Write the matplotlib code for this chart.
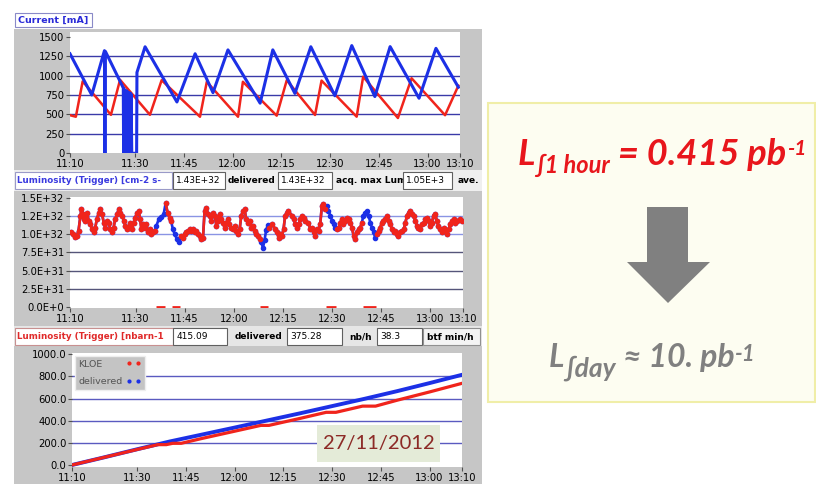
import numpy as np
import matplotlib
matplotlib.use("Agg")
import matplotlib.pyplot as plt
from matplotlib.patches import Rectangle, Polygon
from matplotlib.transforms import Affine2D
from matplotlib.lines import Line2D

W, H = 816, 487

# ---------------- time axis (minutes after 11:10) ----------------
time_ticks = [0, 20, 35, 50, 65, 80, 95, 110, 120]
time_labels = ['11:10', '11:30', '11:45', '12:00', '12:15', '12:30', '12:45', '13:00', '13:10']

# ---------------- beam currents [mA] ----------------
ele_t = [0, 6.7, 10.6, 10.75, 10.9, 16.4, 16.5, 16.6, 16.9, 17.0, 17.1, 17.5, 17.55, 17.7,
         18.0, 18.1, 18.2, 18.6, 18.7, 18.8, 19.0, 20.5, 20.6, 23.1, 32.9, 38.5, 44.0, 48.6,
         58.5, 62.4, 69.2, 74.1, 81.5, 86.7, 93.8, 98.5, 107.4, 112.6, 119.5]
ele_ma = [1280, 750, 1320, 0, 1310, 840, 0, 830, 420, 0, 810, 800, 0, 790,
          400, 0, 780, 770, 0, 760, 0, 0, 1040, 1370, 660, 1280, 780, 1330,
          645, 1330, 770, 1370, 740, 1385, 730, 1372, 708, 1350, 850]
pos_t = [0, 1.8, 3.9, 12.6, 15.4, 24.6, 28.2, 40.0, 42.1, 51.7, 53.2, 63.6, 66.7,
         75.4, 77.4, 88.2, 90.2, 100.9, 105.1, 115.4, 119.5]
pos_ma = [490, 470, 925, 495, 945, 495, 940, 470, 920, 470, 920, 484, 940,
          493, 935, 471, 985, 454, 965, 490, 870]
current_ticks = [0, 250, 500, 750, 1000, 1250, 1500]

# ---------------- instantaneous luminosity [1E32 cm-2 s-1] ----------------
lumi_t = [0.4, 0.9, 1.4, 2.1, 2.6, 3.2, 3.5, 4.0, 4.3, 4.7, 5.2, 5.7, 6.2, 6.7, 7.2, 7.7,
          8.2, 8.8, 9.3, 9.8, 10.3, 10.8, 11.3, 11.8, 12.3, 12.8, 13.3, 13.8, 14.4, 14.9,
          15.4, 15.9, 16.4, 16.9, 17.4, 17.9, 18.4, 18.9, 19.4, 19.9, 20.5, 21.0, 21.4,
          21.8, 22.3, 22.8, 23.3, 23.8, 24.3, 24.8, 25.3, 25.9,
          26.4, 27.1, 27.9, 28.6,
          29.2, 29.8, 30.4, 30.9,
          31.4, 32.0, 32.6, 33.2,
          34.0, 34.5, 35.0, 35.5, 36.0, 36.5, 37.0, 37.6, 38.1, 38.6, 39.1, 39.6, 40.1,
          40.6, 41.1, 41.6, 42.1, 42.6, 43.2, 43.7, 44.2, 44.7, 45.2, 45.7, 46.2, 46.7,
          47.2, 47.7, 48.2, 48.7, 49.3, 49.8, 50.3, 50.8, 51.3, 51.8, 52.3, 52.8, 53.3,
          53.8, 54.3, 54.9, 55.4, 55.9, 56.4, 56.9, 57.4, 57.9,
          58.4, 58.9, 59.4, 59.9, 60.4,
          60.9, 61.7, 62.7, 63.2, 63.7, 64.2, 64.7, 65.2, 65.7, 66.2, 66.7, 67.8, 68.3,
          68.8, 69.3, 69.8, 70.3, 70.8, 71.3, 71.8, 72.8, 73.4, 73.9, 74.4, 74.9, 75.4,
          75.9, 76.4, 76.9, 77.4, 77.9,
          78.4, 78.9, 79.5, 80.0, 80.5, 81.0,
          81.5, 82.0, 82.5, 83.0, 83.5, 84.0, 84.6, 85.1, 85.6, 86.1, 86.6, 87.1, 87.6,
          88.1, 88.6, 89.1,
          89.6, 90.2, 90.7, 91.2, 91.7, 92.2, 92.7, 93.2,
          93.7, 94.2, 94.7, 95.2, 95.7, 96.3, 96.8, 97.3, 97.8, 98.3, 98.8, 99.3, 99.8,
          100.3, 100.8, 101.3, 101.9, 102.4, 102.9, 103.4, 103.9, 104.4, 104.9, 105.4,
          105.9, 106.4, 106.9, 107.5, 108.0, 108.5, 109.0, 109.5, 110.0, 110.5, 111.0,
          111.5, 112.0, 112.5, 113.1, 113.6, 114.1, 114.6, 115.1, 115.6, 116.1, 116.6,
          117.1, 117.6, 118.1, 119.1, 119.7]
lumi_val = [1.03, 1.00, 0.96, 0.98, 1.05, 1.26, 1.35, 1.28, 1.21, 1.19, 1.30, 1.19, 1.14, 1.07, 1.03, 1.09,
            1.21, 1.30, 1.35, 1.28, 1.16, 1.09, 1.19, 1.16, 1.07, 1.03, 1.09, 1.21, 1.28, 1.35,
            1.30, 1.26, 1.19, 1.12, 1.07, 1.09, 1.16, 1.07, 1.16, 1.23, 1.30, 1.32, 1.21,
            1.07, 1.14, 1.09, 1.14, 1.03, 1.07, 1.00, 1.03, 1.05,
            1.12, 1.21, 1.24, 1.28,
            1.43, 1.30, 1.23, 1.18,
            1.07, 1.00, 0.94, 0.90,
            0.98, 0.95, 1.00, 1.03, 1.05, 1.07, 1.05, 1.07, 1.03, 1.05, 1.00, 0.98, 0.93,
            0.95, 1.32, 1.37, 1.28, 1.26, 1.19, 1.30, 1.26, 1.12, 1.19, 1.28, 1.21, 1.16,
            1.09, 1.16, 1.21, 1.14, 1.09, 1.07, 1.12, 1.05, 1.00, 1.07, 1.26, 1.32, 1.35,
            1.21, 1.16, 1.19, 1.09, 1.12, 1.05, 1.00, 0.98, 0.93,
            0.90, 0.81, 0.92, 1.06, 1.13,
            1.09, 1.14, 1.07, 1.03, 0.95, 1.00, 0.98, 1.07, 1.26, 1.30, 1.32, 1.26, 1.21,
            1.14, 1.09, 1.14, 1.21, 1.26, 1.23, 1.19, 1.16, 1.07, 1.09, 1.03, 0.98, 1.07,
            1.05, 1.14, 1.39, 1.42, 1.35,
            1.39, 1.32, 1.26, 1.19, 1.14, 1.09,
            1.07, 1.09, 1.16, 1.21, 1.14, 1.19, 1.23, 1.21, 1.16, 1.09, 0.98, 0.93, 1.03,
            1.07, 1.09, 1.16,
            1.26, 1.30, 1.32, 1.26, 1.16, 1.09, 1.03, 0.95,
            1.00, 1.05, 1.09, 1.16, 1.19, 1.21, 1.26, 1.19, 1.14, 1.07, 1.03, 1.05, 1.00,
            0.98, 1.03, 1.05, 1.07, 1.16, 1.26, 1.30, 1.32, 1.28, 1.26, 1.19,
            1.12, 1.09, 1.07, 1.14, 1.16, 1.21, 1.23, 1.19, 1.12, 1.16, 1.26,
            1.28, 1.19, 1.12, 1.07, 1.03, 1.09, 1.05, 1.00, 1.07, 1.14, 1.19,
            1.21, 1.16, 1.19, 1.21, 1.19]
# periods with KLOE not acquiring (minutes)
kloe_off = [(26.2, 29.0), (31.1, 33.6), (58.1, 60.6), (78.2, 81.2), (89.4, 93.4)]
lumi_ticks = [0.0, 0.25, 0.5, 0.75, 1.0, 1.25, 1.5]
lumi_tick_labels = ['0.0E+0', '2.5E+31', '5.0E+31', '7.5E+31', '1.0E+32', '1.2E+32', '1.5E+32']

# ---------------- integrated luminosity [nb-1] ----------------
int_del_t = [0, 10, 20, 30, 40, 50, 60, 70, 80, 90, 100, 110, 120]
int_del = [0, 70, 142, 212, 275, 338, 402, 466, 532, 598, 667, 740, 815]
int_kloe_t = [0, 10, 20, 26.4, 29.0, 31.0, 33.6, 40, 50, 58.1, 60.6, 70, 78.2, 81.2,
              89.4, 93.4, 100, 110, 120]
int_kloe = [0, 70, 140, 184, 184, 196, 196, 240, 305, 358, 358, 420, 476, 476,
            532, 532, 585, 660, 738]
int_ticks = [0, 200, 400, 600, 800, 1000]
int_tick_labels = ['0.0', '200.0', '400.0', '600.0', '800.0', '1000.0']
legend_labels = ['KLOE', 'delivered']

BLUE = '#1c30e6'
RED = '#f0241c'
FRAME = '#c6c6c6'

fig = plt.figure(figsize=(W / 100, H / 100), dpi=100)
fig.patch.set_facecolor('white')
px = Affine2D().scale(1 / W, -1 / H).translate(0, 1) + fig.transFigure


def add_axes_px(x0, y0, x1, y1):
    return fig.add_axes([x0 / W, 1 - y1 / H, (x1 - x0) / W, (y1 - y0) / H])


def rect(x0, y0, x1, y1, fc, ec='none', lw=0.8, z=-1):
    fig.patches.append(Rectangle((x0, y0), x1 - x0, y1 - y0, transform=px,
                                 facecolor=fc, edgecolor=ec, linewidth=lw, zorder=z))


def label(x, y, s, color='black', size=6.5, weight='normal', z=3, ha='left'):
    fig.text(x, y, s, transform=px, color=color, fontsize=size, fontweight=weight,
             va='center', ha=ha, zorder=z, family='DejaVu Sans')


def style_axes(ax, yticks, ylabels, ylim, grid_vals, grid_colors):
    ax.set_facecolor('white')
    ax.set_xlim(0, 120)
    ax.set_ylim(*ylim)
    ax.set_xticks(time_ticks, time_labels)
    ax.set_yticks(yticks, ylabels)
    ax.tick_params(length=3, width=0.8, color='#505050', labelsize=7.2, pad=1)
    for sp in ax.spines.values():
        sp.set_visible(False)
    for v, c in zip(grid_vals, grid_colors):
        ax.axhline(v, color=c, lw=1.0, zorder=0.5)


# ---------------- panel frames ----------------
rect(14, 29, 482, 170, FRAME)
rect(14, 170, 482, 191, '#efefef')
rect(14, 191, 482, 326, FRAME)
rect(14, 326, 482, 346, '#e6e6e6')
rect(14, 346, 482, 484, FRAME)

# ---------------- beam currents ----------------
ax1 = add_axes_px(70, 32, 460, 153.3)
style_axes(ax1, current_ticks, [str(v) for v in current_ticks], (0, 1560),
           current_ticks[1:-1], ['#3a3aa8'] * 5)
ax1.plot(pos_t, pos_ma, color=RED, lw=1.8, zorder=2)
ax1.plot(ele_t, ele_ma, color=BLUE, lw=2.2, zorder=3)

rect(15, 13, 92, 27, 'white', ec='#8a8ac8', z=2)
label(18, 20, 'Current [mA]', color='#2a2ad8', size=6.8, weight='bold')

# ---------------- instantaneous luminosity ----------------
ax2 = add_axes_px(70, 196.7, 463, 308)
style_axes(ax2, lumi_ticks, lumi_tick_labels, (-0.018, 1.52),
           [0.25, 0.5, 0.75, 1.0, 1.25], ['#55557a', '#55557a', '#55557a', '#8a94e4', '#8a94e4'])
lt = np.array(lumi_t)
lv = np.array(lumi_val)
off = np.zeros(lt.size, dtype=bool)
for a, b in kloe_off:
    off |= (lt >= a) & (lt <= b)
kloe_v = np.where(off, np.nan, lv)
ax2.plot(lt, lv, color=BLUE, lw=1.9, marker='o', ms=3.0, zorder=2)
ax2.plot(lt, kloe_v, color=RED, lw=1.9, marker='o', ms=3.0, zorder=3)
for a, b in kloe_off:
    ax2.plot([a, b], [0, 0], color=RED, lw=2.0, solid_capstyle='butt', zorder=3)

rect(15, 172, 172, 189, 'white', ec='#9a9ac8', z=2)
label(17, 180.5, 'Luminosity (Trigger) [cm-2 s-', color='#3a3ae0', size=6.3, weight='bold', z=2.1)
rect(173, 172, 225, 189, 'white', ec='#606060', z=3)
label(176, 180.5, '1.43E+32', size=6.5, z=3.1)
label(228, 180.5, 'delivered', size=6.5, weight='bold')
rect(278, 172, 332, 189, 'white', ec='#606060', z=3)
label(281, 180.5, '1.43E+32', size=6.5, z=3.1)
label(336, 180.5, 'acq. max Lum', size=6.5, weight='bold', z=2.5)
rect(403, 172, 452, 189, 'white', ec='#606060', z=3)
label(406, 180.5, '1.05E+3', size=6.5, z=3.1)
label(458, 180.5, 'ave.', size=6.5, weight='bold')

# ---------------- integrated luminosity ----------------
ax3 = add_axes_px(72, 353, 462, 467)
style_axes(ax3, int_ticks, int_tick_labels, (-18, 1012),
           [200, 400, 600, 800], ['#5a5ac0'] * 4)
ax3.plot(int_del_t, int_del, color=BLUE, lw=2.8, zorder=2)
ax3.plot(int_kloe_t, int_kloe, color=RED, lw=2.3, zorder=3)
handles = [Line2D([], [], color=RED, marker='.', ls='none', ms=4),
           Line2D([], [], color=BLUE, marker='.', ls='none', ms=4)]
# both rows get the width of the longest label so that the text is left-aligned
longest = max(legend_labels, key=len)
leg = ax3.legend(handles, [longest] * len(legend_labels), loc='upper left', numpoints=2,
                 markerfirst=False, fancybox=False, facecolor='#c4c4c4', edgecolor='#eeeeee',
                 framealpha=1, fontsize=6.8, labelcolor='#555555', borderaxespad=0.3,
                 handlelength=1.6, handletextpad=0.3, borderpad=0.4, labelspacing=0.9)
leg.set_zorder(5)

rect(15, 328, 173, 345, 'white', ec='#c89090', z=2)
label(17, 336.5, 'Luminosity (Trigger) [nbarn-1', color='#e02a2a', size=6.3, weight='bold', z=2.1)
rect(173, 328, 227, 345, 'white', ec='#606060', z=3)
label(177, 336.5, '415.09', size=6.5, z=3.1)
label(235, 336.5, 'delivered', size=6.5, weight='bold')
rect(287, 328, 342, 345, 'white', ec='#606060', z=3)
label(290, 336.5, '375.28', size=6.5, z=3.1)
label(349, 336.5, 'nb/h', size=6.5, weight='bold')
rect(377, 328, 422, 345, 'white', ec='#606060', z=3)
label(380, 336.5, '38.3', size=6.5, z=3.1)
rect(423, 328, 480, 345, '#f4f4f4', ec='#909090', z=3)
label(427, 336.5, 'btf min/h', size=6.5, weight='bold', z=3.1)

# date tag
rect(317, 425, 440, 462, '#e4ebd8', z=4)
fig.text(378.5, 444, '27/11/2012', transform=px, color='#8c2a26', fontsize=14.5,
         family=['Lato', 'DejaVu Sans'], ha='center', va='center', zorder=4.1)

# ---------------- summary box ----------------
rect(488, 103, 815, 402, '#fdfdf1', ec='#f0eea8', lw=1.5, z=1)

arrow = Polygon([(647, 207), (688, 207), (688, 262), (710, 262), (668, 303),
                 (627, 262), (647, 262)], closed=True, transform=px,
                facecolor='#808080', edgecolor='none', zorder=2)
fig.patches.append(arrow)

fig.canvas.draw()
renderer = fig.canvas.get_renderer()

# put the real legend labels in place, left-aligned in the legend box
for txt, s in zip(leg.get_texts(), legend_labels):
    bb = txt.get_window_extent(renderer=renderer)
    txt.set_alpha(0)
    fig.text(bb.x0, (bb.y0 + bb.y1) / 2, s, transform=None, color='#555555', fontsize=6.8,
             va='center', ha='left', zorder=6)


def rich_line(runs, cx, baseline, color):
    made = []
    for s, size, dy in runs:
        t = fig.text(0, 0, s, transform=px, color=color, fontsize=size,
                     fontweight='bold', fontstyle='italic', family=['Lato', 'DejaVu Sans'],
                     va='baseline', ha='left', zorder=3)
        w = t.get_window_extent(renderer=renderer).width
        made.append((t, w, dy))
    total = sum(w for _, w, _ in made)
    x = cx - total / 2
    for t, w, dy in made:
        t.set_position((x, baseline - dy))
        x += w


rich_line([('L', 26, 0), ('\u222b1 hour', 17, -8), (' = 0.415 pb', 26, 0), ('-1', 15, 10)],
          662, 165, '#e8161c')
rich_line([('L', 23, 0), ('\u222bday', 19, -10), (' \u2248 10. pb', 23, 0), ('-1', 16, 6)],
          652, 367, '#808080')

fig.savefig('out.png', dpi=100, facecolor='white')
